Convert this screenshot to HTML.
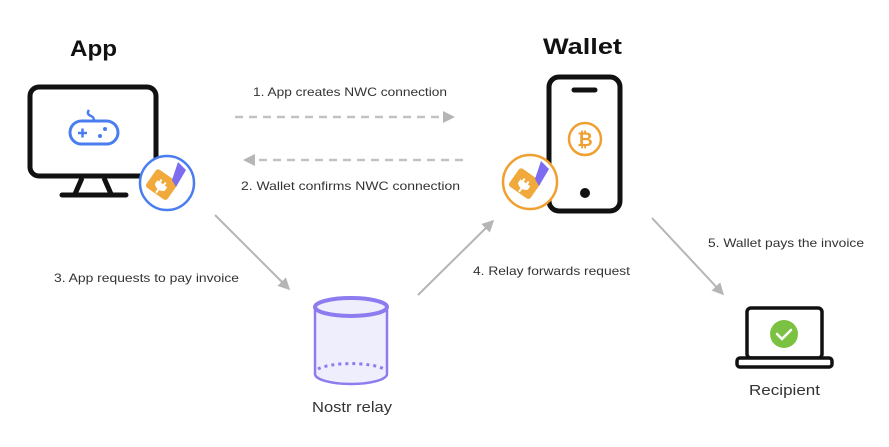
<!DOCTYPE html>
<html><head><meta charset="utf-8"><style>
html,body{margin:0;padding:0;background:#fff;width:889px;height:447px;overflow:hidden}
text{font-family:"Liberation Sans",sans-serif}
</style></head><body>
<svg width="889" height="447" viewBox="0 0 889 447" xmlns="http://www.w3.org/2000/svg">
<defs>
<marker id="ah2" markerWidth="14" markerHeight="14" refX="9" refY="7" orient="auto" markerUnits="userSpaceOnUse">
<path d="M0,1 L12,7 L0,13 z" fill="#b5b5b5"/>
</marker>
</defs>
<text x="70" y="56" font-size="22" font-weight="bold" fill="#111" textLength="47" lengthAdjust="spacingAndGlyphs">App</text>
<text x="543" y="54" font-size="22" font-weight="bold" fill="#111" textLength="79" lengthAdjust="spacingAndGlyphs">Wallet</text>

<rect x="30" y="87" width="126" height="89" rx="9" fill="#fff" stroke="#111" stroke-width="5"/>
<path d="M82,178 L75,194 M104,178 L111,194" stroke="#111" stroke-width="5"/>
<line x1="62" y1="195" x2="126" y2="195" stroke="#111" stroke-width="5" stroke-linecap="round"/>
<rect x="70" y="121" width="48" height="23" rx="11.5" fill="none" stroke="#4a7ef0" stroke-width="3"/>
<path d="M89,110 q-3,4 2,6 q3,1 3,5" fill="none" stroke="#4a7ef0" stroke-width="2.5"/>
<path d="M78,133 h9 M82.5,128.5 v9" stroke="#4a7ef0" stroke-width="2.5"/>
<circle cx="105" cy="129" r="2" fill="#4a7ef0"/><circle cx="100" cy="136" r="2" fill="#4a7ef0"/>
<circle cx="167" cy="183" r="27" fill="#fff" stroke="#4a7ef0" stroke-width="2.5"/>
<g transform="rotate(35 162 186)">
<rect x="148" y="174" width="26" height="22" rx="3" fill="#f0a93a"/>
<path d="M158,181 v4 M163,181 v4 M156,185 h10 v3 q-5,4 -10,0z M161,190 v5" stroke="#fff" stroke-width="2" fill="#fff"/>
</g>
<path d="M178,162 L186,170 L176,187 L172,180 z" fill="#7b6cf0"/>

<rect x="549" y="77" width="71" height="134" rx="10" fill="#fff" stroke="#111" stroke-width="5"/>
<line x1="574" y1="90" x2="595" y2="90" stroke="#111" stroke-width="5" stroke-linecap="round"/>
<circle cx="585" cy="139" r="16" fill="#fff" stroke="#f0a030" stroke-width="2.5"/>
<text x="585" y="146" font-size="19" font-weight="bold" text-anchor="middle" fill="#f0a030">₿</text>
<circle cx="585" cy="193" r="5" fill="#111"/>
<circle cx="530" cy="182" r="27" fill="#fff" stroke="#f0a030" stroke-width="2.5"/>
<g transform="rotate(35 525 185)">
<rect x="511" y="173" width="26" height="22" rx="3" fill="#f0a93a"/>
<path d="M521,180 v4 M526,180 v4 M519,184 h10 v3 q-5,4 -10,0z M524,189 v5" stroke="#fff" stroke-width="2" fill="#fff"/>
</g>
<path d="M541,161 L549,169 L539,186 L535,179 z" fill="#7b6cf0"/>

<line x1="235" y1="117" x2="452" y2="117" stroke="#c2c2c2" stroke-width="2.5" stroke-dasharray="8,6" marker-end="url(#ah2)"/>
<line x1="463" y1="160" x2="246" y2="160" stroke="#c2c2c2" stroke-width="2.5" stroke-dasharray="8,6" marker-end="url(#ah2)"/>
<text x="253" y="96" font-size="12" fill="#333" textLength="194" lengthAdjust="spacingAndGlyphs">1. App creates NWC connection</text>
<text x="241" y="190" font-size="12" fill="#333" textLength="219" lengthAdjust="spacingAndGlyphs">2. Wallet confirms NWC connection</text>

<line x1="215" y1="215" x2="288" y2="288" stroke="#b5b5b5" stroke-width="2" marker-end="url(#ah2)"/>
<line x1="418" y1="295" x2="492" y2="222" stroke="#b5b5b5" stroke-width="2" marker-end="url(#ah2)"/>
<line x1="652" y1="218" x2="722" y2="293" stroke="#b5b5b5" stroke-width="2" marker-end="url(#ah2)"/>
<text x="54" y="282" font-size="12" fill="#333" textLength="185" lengthAdjust="spacingAndGlyphs">3. App requests to pay invoice</text>
<text x="473" y="275" font-size="12" fill="#333" textLength="157" lengthAdjust="spacingAndGlyphs">4. Relay forwards request</text>
<text x="708" y="247" font-size="12" fill="#333" textLength="156" lengthAdjust="spacingAndGlyphs">5. Wallet pays the invoice</text>

<path d="M315,307 v67 a36,10 0 0 0 72,0 v-67" fill="#eeeefc" stroke="#8c7cf0" stroke-width="2.5"/>
<ellipse cx="351" cy="307" rx="36" ry="9" fill="#eeeefc" stroke="#8c7cf0" stroke-width="4"/>
<path d="M318,369 a36,9 0 0 1 66,0" fill="none" stroke="#8c7cf0" stroke-width="3" stroke-dasharray="3,4"/>
<text x="312" y="412" font-size="14.5" fill="#333" textLength="80" lengthAdjust="spacingAndGlyphs">Nostr relay</text>

<rect x="747" y="308" width="75" height="50" rx="4" fill="#fff" stroke="#111" stroke-width="3.5"/>
<rect x="737" y="358" width="95" height="9" rx="3" fill="#fff" stroke="#111" stroke-width="3.5"/>
<circle cx="784" cy="334" r="14" fill="#7cc242"/>
<path d="M777,334 l5,5 l9,-9" fill="none" stroke="#fff" stroke-width="2.5" stroke-linecap="round"/>
<text x="749" y="395" font-size="14.5" fill="#333" textLength="71" lengthAdjust="spacingAndGlyphs">Recipient</text>
</svg>
</body></html>
